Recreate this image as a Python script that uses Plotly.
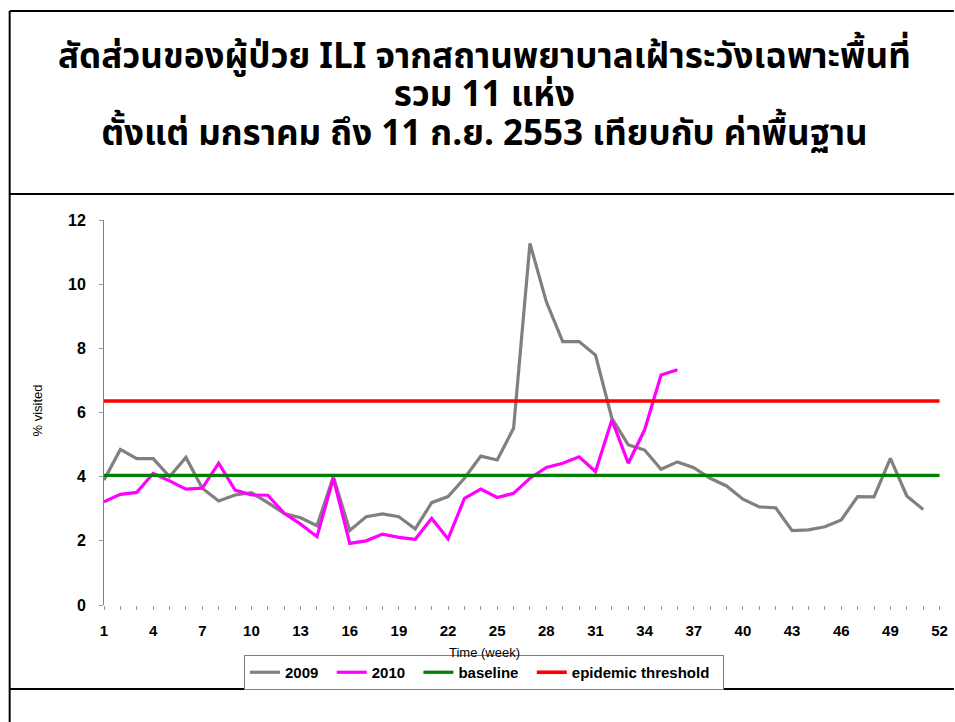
import plotly.graph_objects as go

weeks_2009 = list(range(1, 52))
ili_2009 = [3.90, 4.85, 4.56, 4.56, 4.00, 4.60, 3.64, 3.24, 3.43, 3.50,
            3.19, 2.85, 2.72, 2.47, 4.00, 2.32, 2.75, 2.84, 2.75, 2.37,
            3.19, 3.38, 3.95, 4.64, 4.52, 5.51, 11.27, 9.45, 8.21, 8.21,
            7.79, 5.82, 4.99, 4.83, 4.23, 4.46, 4.28, 3.95, 3.71, 3.30,
            3.06, 3.03, 2.32, 2.34, 2.44, 2.65, 3.38, 3.37, 4.57, 3.40, 2.98]
weeks_2010 = list(range(1, 37))
ili_2010 = [3.22, 3.45, 3.51, 4.10, 3.87, 3.61, 3.64, 4.42, 3.58, 3.43,
            3.42, 2.86, 2.52, 2.13, 3.95, 1.92, 2.00, 2.21, 2.11, 2.05,
            2.70, 2.06, 3.32, 3.61, 3.35, 3.48, 3.95, 4.29, 4.42, 4.62,
            4.16, 5.77, 4.42, 5.46, 7.17, 7.33]
weeks_all = list(range(1, 53))
baseline_value = 4.04
threshold_value = 6.36
x_tick_vals = list(range(1, 53, 3))
y_tick_vals = [0, 2, 4, 6, 8, 10, 12]
series_names = ["2009", "2010", "baseline", "epidemic threshold"]

title_lines = [
    "สัดส่วนของผู้ป่วย ILI จากสถานพยาบาลเฝ้าระวังเฉพาะพื้นที่",
    "รวม 11 แห่ง",
    "ตั้งแต่ มกราคม ถึง 11 ก.ย. 2553 เทียบกับ ค่าพื้นฐาน",
]

W, H = 955, 722
L, R, T, B = 104, 948, 220, 605


def px(x):
    return (x - L) / (R - L)


def py(y):
    return (B - y) / (B - T)


PAD = "\u00a0\u00a0"

fig = go.Figure()
fig.add_trace(go.Scatter(x=weeks_2009, y=ili_2009, mode="lines", name=series_names[0] + PAD,
                         line=dict(color="#808080", width=3.2)))
fig.add_trace(go.Scatter(x=weeks_2010, y=ili_2010, mode="lines", name=series_names[1] + PAD,
                         line=dict(color="#FF00FF", width=3.2)))
fig.add_trace(go.Scatter(x=weeks_all, y=[baseline_value] * len(weeks_all), mode="lines",
                         name=series_names[2] + PAD, line=dict(color="#008000", width=3.2)))
fig.add_trace(go.Scatter(x=weeks_all, y=[threshold_value] * len(weeks_all), mode="lines",
                         name=series_names[3] + PAD, line=dict(color="#FF0000", width=3.6)))

thai_font = "Tahoma, 'Noto Sans Thai', Garuda, Loma, 'DejaVu Sans', sans-serif"
title_text = "<br>".join("<b><span style='font-size:35px'>" + t + "</span></b>" for t in title_lines)
annotations = [dict(text=title_text, x=px(487), y=py(96), xref="paper", yref="paper",
                    xanchor="center", yanchor="middle", align="center", showarrow=False,
                    font=dict(family=thai_font, size=29.5, color="black"))]
annotations.append(dict(text="Time (week)", x=px(487), y=py(652), xref="paper", yref="paper",
                        xanchor="center", yanchor="middle", showarrow=False,
                        font=dict(family="Arial, 'Liberation Sans', sans-serif", size=13, color="black")))
annotations.append(dict(text="% visited", x=px(37), y=py(410), xref="paper", yref="paper",
                        xanchor="center", yanchor="middle", showarrow=False, textangle=-90,
                        font=dict(family="Arial, 'Liberation Sans', sans-serif", size=13, color="black")))

shapes = []
line_style = dict(color="black", width=2)
shapes.append(dict(type="line", xref="paper", yref="paper", x0=px(9), x1=px(960), y0=py(11), y1=py(11), line=line_style))
shapes.append(dict(type="line", xref="paper", yref="paper", x0=px(9), x1=px(9), y0=py(11), y1=py(730), line=line_style))
shapes.append(dict(type="line", xref="paper", yref="paper", x0=px(9), x1=px(960), y0=py(194), y1=py(194), line=line_style))
shapes.append(dict(type="line", xref="paper", yref="paper", x0=px(9), x1=px(960), y0=py(689), y1=py(689), line=line_style))

fig.update_layout(
    width=W, height=H,
    margin=dict(l=L, r=W - R, t=T, b=H - B),
    paper_bgcolor="white", plot_bgcolor="white",
    showlegend=True,
    legend=dict(orientation="h", x=px(245), y=py(655), xanchor="left", yanchor="top",
                bgcolor="white", bordercolor="#808080", borderwidth=1,
                font=dict(family="Arial, 'Liberation Sans', sans-serif", size=15, color="black",
                          weight="bold"),
                itemwidth=30, tracegroupgap=0),
    annotations=annotations,
    shapes=shapes,
    font=dict(family="Arial, 'Liberation Sans', sans-serif", color="black"),
)
fig.update_xaxes(range=[1, 52.15], tickmode="array", tickvals=x_tick_vals,
                 ticktext=[str(v) for v in x_tick_vals], showgrid=False, zeroline=False,
                 showline=False, ticks="outside", ticklen=4, tickcolor="#999999",
                 tickfont=dict(size=15, weight="bold", color="black"), ticklabelstandoff=8,
                 minor=dict(tickmode="linear", tick0=1, dtick=1, ticks="outside", ticklen=4,
                            tickcolor="#999999"))
fig.update_yaxes(range=[0, 12], tickvals=y_tick_vals, showgrid=False, zeroline=False,
                 showline=True, linecolor="#808080", linewidth=1,
                 ticks="outside", ticklen=4, tickcolor="#999999",
                 tickfont=dict(size=16, weight="bold", color="black"), ticklabelstandoff=10)

fig.write_html("out.html", config={"displayModeBar": False},
               post_script="document.body.style.margin='0';document.body.style.overflow='hidden';")
